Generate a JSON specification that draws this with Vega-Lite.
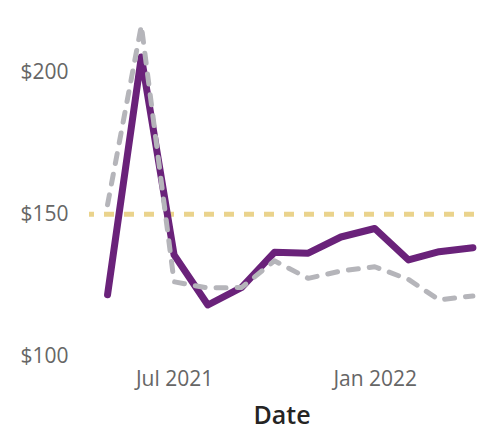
{
  "$schema": "https://vega.github.io/schema/vega-lite/v6.json",
  "width": 385,
  "height": 340,
  "autosize": {"type": "none"},
  "padding": {"left": 89, "top": 16, "right": 8, "bottom": 77},
  "background": "white",
  "config": {"view": {"stroke": null}},
  "datasets": {
    "main": [
      {"date": "2021-05-01", "series": "Actual", "value": 121.6},
      {"date": "2021-06-01", "series": "Actual", "value": 205.5},
      {"date": "2021-07-01", "series": "Actual", "value": 135.7},
      {"date": "2021-08-01", "series": "Actual", "value": 118.0},
      {"date": "2021-09-01", "series": "Actual", "value": 124.2},
      {"date": "2021-10-01", "series": "Actual", "value": 136.6},
      {"date": "2021-11-01", "series": "Actual", "value": 136.3},
      {"date": "2021-12-01", "series": "Actual", "value": 142.0},
      {"date": "2022-01-01", "series": "Actual", "value": 145.0},
      {"date": "2022-02-01", "series": "Actual", "value": 133.9},
      {"date": "2022-03-01", "series": "Actual", "value": 136.8},
      {"date": "2022-04-01", "series": "Actual", "value": 138.2},
      {"date": "2021-05-01", "series": "Comparison", "value": 153.4},
      {"date": "2021-06-01", "series": "Comparison", "value": 216.6},
      {"date": "2021-07-01", "series": "Comparison", "value": 126.2},
      {"date": "2021-08-01", "series": "Comparison", "value": 124.0},
      {"date": "2021-09-01", "series": "Comparison", "value": 124.2},
      {"date": "2021-10-01", "series": "Comparison", "value": 133.6},
      {"date": "2021-11-01", "series": "Comparison", "value": 127.4},
      {"date": "2021-12-01", "series": "Comparison", "value": 130.0},
      {"date": "2022-01-01", "series": "Comparison", "value": 131.5},
      {"date": "2022-02-01", "series": "Comparison", "value": 127.0},
      {"date": "2022-03-01", "series": "Comparison", "value": 119.8},
      {"date": "2022-04-01", "series": "Comparison", "value": 121.2}
    ],
    "target": [{"value": 150}]
  },
  "layer": [
    {
      "data": {"name": "target"},
      "mark": {"type": "rule", "color": "#EAD38C", "strokeWidth": 5, "strokeDash": [10, 10]},
      "encoding": {"y": {"field": "value", "type": "quantitative"}}
    },
    {
      "data": {"name": "main"},
      "transform": [{"filter": "datum.series === 'Actual'"}],
      "mark": {"type": "line", "color": "#6A227A", "strokeWidth": 7, "strokeCap": "round", "strokeJoin": "round"},
      "encoding": {
        "x": {
          "field": "date", "type": "temporal",
          "scale": {"domain": ["2021-04-14", "2022-04-02"]},
          "axis": {
            "values": [{"year": 2021, "month": 7, "date": 1}, {"year": 2022, "month": 1, "date": 1}],
            "format": "%b %Y",
            "domain": false, "ticks": false, "tickSize": 0, "grid": false,
            "labelFont": "Open Sans", "labelFontSize": 21, "labelColor": "#666666",
            "labelPadding": 12,
            "title": "Date", "titleFont": "Open Sans", "titleFontSize": 25, "titleFontWeight": 600,
            "titleColor": "#252423", "titlePadding": 14
          }
        },
        "y": {
          "field": "value", "type": "quantitative",
          "scale": {"domain": [100, 220], "nice": false, "zero": false},
          "axis": {
            "values": [100, 150, 200],
            "format": "$,.0f",
            "domain": false, "ticks": false, "tickSize": 0, "grid": false,
            "labelFont": "Open Sans", "labelFontSize": 21, "labelColor": "#666666",
            "labelPadding": 21,
            "title": null
          }
        }
      }
    },
    {
      "data": {"name": "main"},
      "transform": [{"filter": "datum.series === 'Comparison'"}],
      "mark": {"type": "line", "color": "#B5B5BA", "strokeWidth": 5, "strokeCap": "round", "strokeJoin": "round", "strokeDash": [10, 11]},
      "encoding": {
        "x": {"field": "date", "type": "temporal"},
        "y": {"field": "value", "type": "quantitative"}
      }
    }
  ]
}
